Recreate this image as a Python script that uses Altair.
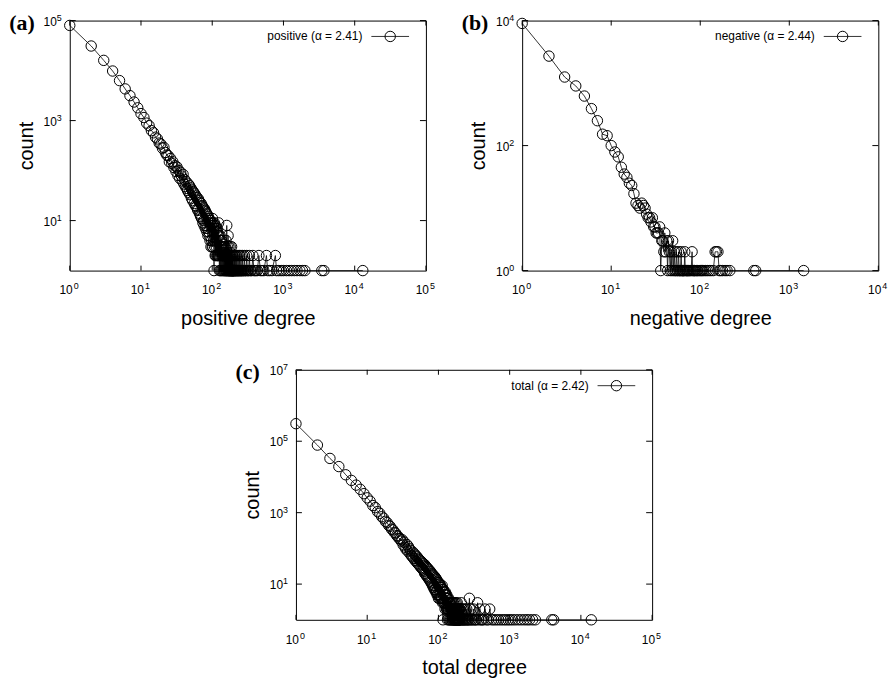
import math
import altair as alt
import pandas as pd

W, H = 359, 252
FONT = "Liberation Sans"

# ---------------- data ----------------
# counts for degree 1, 2, 3, ... (one entry per consecutive degree)
pos_dense = [
    80000, 31000, 16000, 9800, 6300, 4300, 3150, 2350, 1800, 1380,
    1150, 890, 790, 630, 570, 465, 430, 355, 340, 280,
    290, 230, 205, 200, 150, 175, 140, 150, 115, 125,
    96, 118, 80, 100, 70, 92, 78, 62, 84, 54,
    66, 48, 60, 44, 40, 54, 36, 50, 33, 45,
    28, 41, 25, 38, 36, 22, 34, 20, 31, 19,
    29, 17, 16, 27, 25, 14, 23, 13, 12, 22,
    11, 20, 19, 9, 18, 10, 8, 17, 16, 7,
    15, 8, 14, 6, 7, 13, 5, 12, 6, 11,
    5, 10, 4, 9, 10, 3, 8, 4, 9, 3,
    11, 3, 9, 4, 8, 1, 9, 3, 7, 2,
    8, 2, 7, 3, 6, 2, 7, 2, 6, 2,
    5, 2, 9, 2, 5, 1, 4, 2, 5, 1,
    4, 2, 3, 1, 4, 2, 3, 1, 2, 2,
    3, 1, 2, 2, 3, 1, 2, 1, 3, 2,
    2, 1, 3, 1, 2, 4, 1, 2, 1, 8,
    1, 2, 3, 1, 2, 1, 5, 1, 2, 1,
    3, 1, 1, 2, 1, 2, 1, 1, 3, 1,
    2, 1, 1, 2, 1, 1, 3, 1, 1, 2,
    1, 1, 2, 1, 1, 1, 2, 1, 1, 1,
]
pos_tail = [
    (202, 1), (204, 2), (205, 1), (207, 1), (209, 2), (210, 1), (212, 1), (214, 1),
    (215, 2), (217, 1), (220, 1), (222, 2), (224, 1), (226, 1), (229, 1), (231, 2),
    (233, 1), (236, 1), (238, 1), (241, 2), (244, 1), (247, 1), (250, 1), (253, 2),
    (256, 1), (259, 1), (262, 1), (266, 2), (270, 1), (274, 1), (278, 1), (283, 2),
    (288, 1), (293, 1), (298, 1), (305, 2), (311, 1), (318, 1), (325, 1), (332, 2),
    (340, 1), (350, 1), (360, 1), (372, 2), (385, 1), (398, 1), (412, 1), (430, 1),
    (452, 2), (475, 1), (500, 1), (530, 1), (577, 2), (600, 1), (640, 1), (690, 1),
    (770, 2), (800, 1), (860, 1), (930, 1), (1000, 1), (1100, 1), (1200, 1), (1300, 1),
    (1420, 1), (1550, 1), (1700, 1), (1850, 1), (2000, 1), (3450, 1), (3700, 1), (13000, 1),
]

neg_dense = [
    9000, 2700, 1250, 900, 620, 390, 250, 152, 144, 100,
    79, 66, 45, 35, 31, 25, 23, 17, 12, 11,
    10, 12, 11, 10, 8, 7, 7, 6, 7, 5,
    5, 4, 4, 4, 5, 1, 3, 3, 2, 4,
    2, 3, 1, 3, 2, 1, 2, 1, 3, 1,
    2, 1, 1, 2, 1, 1, 2, 1, 1, 1,
]
neg_tail = [
    (61, 2), (62, 1), (63, 1), (64, 1), (65, 1), (66, 1), (67, 2), (68, 1),
    (70, 1), (71, 1), (72, 1), (74, 1), (75, 1), (77, 1), (79, 1),
    (81, 2), (82, 1), (84, 1), (86, 1), (87, 1), (90, 1), (92, 1), (94, 1), (97, 1),
    (100, 1), (103, 1), (106, 1), (110, 1), (115, 1), (120, 1), (126, 1), (132, 1), (140, 1),
    (147, 2), (152, 2), (158, 2), (163, 1), (170, 1), (178, 1), (190, 1), (200, 1), (215, 1),
    (400, 1), (420, 1), (1450, 1),
]

tot_dense = [
    310000, 78000, 33000, 19500, 11500, 8000, 5900, 4500, 3400, 2600,
    2100, 1580, 1380, 1070, 960, 770, 700, 570, 530, 440,
    415, 345, 330, 280, 268, 228, 220, 190, 184, 160,
    175, 125, 150, 108, 95, 128, 84, 112, 98, 70,
    88, 62, 58, 78, 52, 70, 46, 64, 42, 58,
    38, 53, 35, 48, 32, 45, 29, 42, 27, 39,
    25, 37, 23, 20, 34, 19, 31, 17, 29, 16,
    27, 15, 14, 25, 13, 23, 12, 22, 11, 20,
    10, 19, 9, 18, 8, 17, 9, 7, 16, 7,
    15, 6, 14, 6, 13, 5, 12, 5, 11, 4,
    11, 5, 10, 4, 10, 5, 9, 4, 8, 4,
    8, 4, 9, 3, 7, 1, 7, 3, 6, 3,
    6, 3, 5, 2, 6, 3, 5, 3, 4, 2,
    5, 2, 4, 1, 4, 2, 3, 2, 4, 1,
    3, 2, 3, 1, 3, 2, 3, 1, 2, 2,
    3, 1, 2, 2, 3, 1, 2, 1, 3, 2,
    2, 1, 3, 1, 2, 2, 1, 2, 1, 3,
    1, 2, 1, 1, 2, 1, 3, 1, 2, 1,
    2, 1, 1, 3, 1, 2, 1, 1, 2, 1,
    1, 2, 1, 1, 1, 2, 1, 1, 2, 1,
]
tot_tail = [
    (203, 2), (206, 1), (209, 3), (212, 1), (215, 2), (218, 1), (221, 1), (224, 2),
    (228, 1), (232, 1), (236, 2), (240, 1), (245, 1), (250, 2), (255, 1), (260, 1),
    (266, 1), (272, 4), (278, 1), (285, 2), (292, 1), (300, 1), (310, 2), (320, 1),
    (330, 1), (342, 1), (355, 3), (368, 1), (380, 2), (395, 1), (410, 1), (430, 1),
    (450, 2), (475, 1), (500, 1), (525, 2), (560, 1), (600, 1), (650, 1), (700, 1),
    (760, 1), (820, 1), (880, 1), (950, 1), (1020, 1), (1100, 1), (1200, 1), (1320, 1),
    (1450, 1), (1600, 1), (1750, 1), (1900, 1), (2100, 1), (2300, 1), (3900, 1),
    (4150, 1), (14000, 1),
]

pos_xticks = [1, 10, 100, 1000, 10000, 100000]
pos_yticks = [10, 1000, 100000]
neg_xticks = [1, 10, 100, 1000, 10000]
neg_yticks = [1, 100, 10000]
tot_xticks = [1, 10, 100, 1000, 10000, 100000]
tot_yticks = [10, 1000, 100000, 10000000]


def panel(dense, tail, xmax, ymax, xticks, yticks, tag, legend_text, xtitle):
    deg = list(range(1, len(dense) + 1)) + [d for d, _ in tail]
    cnt = list(dense) + [c for _, c in tail]
    df = pd.DataFrame({"deg": deg, "cnt": cnt})

    xs = alt.Scale(type="log", domain=[1, xmax], nice=False)
    ys = alt.Scale(type="log", domain=[1, ymax], nice=False)
    common = dict(ticks=False, tickSize=0, grid=False, domain=False, labels=False,
                  titleFont=FONT, titleFontSize=20, titleFontWeight="normal",
                  titleColor="black")
    xax = alt.Axis(values=xticks, titlePadding=38, title=xtitle, **common)
    yax = alt.Axis(values=yticks, titlePadding=34, title="count", **common)
    x = alt.X("deg:Q", scale=xs, axis=xax)
    y = alt.Y("cnt:Q", scale=ys, axis=yax)

    line = alt.Chart(df).mark_line(color="black", strokeWidth=0.8).encode(x=x, y=y)
    pts = alt.Chart(df).mark_point(shape="circle", filled=False, color="black",
                                   size=110, strokeWidth=1, opacity=1).encode(x=x, y=y)

    xt = pd.DataFrame({"deg": xticks,
                       "e": [str(int(round(math.log10(v)))) for v in xticks]})
    yt = pd.DataFrame({"cnt": yticks,
                       "e": [str(int(round(math.log10(v)))) for v in yticks]})
    tb = alt.Chart(xt).mark_rule(color="black", strokeWidth=1).encode(
        x=x, y=alt.value(H), y2=alt.value(H - 5))
    tt = alt.Chart(xt).mark_rule(color="black", strokeWidth=1).encode(
        x=x, y=alt.value(0), y2=alt.value(5))
    tl = alt.Chart(yt).mark_rule(color="black", strokeWidth=1).encode(
        y=y, x=alt.value(0), x2=alt.value(6))
    tr = alt.Chart(yt).mark_rule(color="black", strokeWidth=1).encode(
        y=y, x=alt.value(W), x2=alt.value(W - 6))

    # tick labels: "10" plus a raised exponent
    xl10 = alt.Chart(xt).mark_text(font=FONT, fontSize=12, align="right",
                                   baseline="alphabetic", dx=3, color="black",
                                   text="10").encode(x=x, y=alt.value(H + 24))
    xlex = alt.Chart(xt).mark_text(font=FONT, fontSize=9, align="left",
                                   baseline="alphabetic", dx=4, color="black").encode(
        x=x, y=alt.value(H + 19), text="e:N")
    yl10 = alt.Chart(yt).mark_text(font=FONT, fontSize=12, align="right",
                                   baseline="alphabetic", dx=-13, dy=5, color="black",
                                   text="10").encode(y=y, x=alt.value(0))
    ylex = alt.Chart(yt).mark_text(font=FONT, fontSize=9, align="left",
                                   baseline="alphabetic", dx=-13, dy=0, color="black").encode(
        y=y, x=alt.value(0), text="e:N")

    one = pd.DataFrame({"t": [tag], "l": [legend_text]})
    tagm = alt.Chart(one).mark_text(font="Liberation Serif", fontWeight="bold",
                                    fontSize=22, align="left", baseline="middle",
                                    color="black").encode(
        x=alt.value(-61), y=alt.value(2), text="t:N")
    legt = alt.Chart(one).mark_text(font=FONT, fontSize=12, align="right",
                                    baseline="middle", color="black").encode(
        x=alt.value(W - 64), y=alt.value(16), text="l:N")
    legr = alt.Chart(one).mark_rule(color="black", strokeWidth=0.8).encode(
        x=alt.value(W - 55), x2=alt.value(W - 17), y=alt.value(16))
    legp = alt.Chart(one).mark_point(shape="circle", filled=False, color="black",
                                     size=110, strokeWidth=1, opacity=1).encode(
        x=alt.value(W - 36), y=alt.value(16))

    return alt.layer(line, pts, tb, tt, tl, tr, xl10, xlex, yl10, ylex,
                     tagm, legt, legr, legp).properties(width=W, height=H)


pa = panel(pos_dense, pos_tail, 100000, 100000, pos_xticks, pos_yticks,
           "(a)", "positive (\u03b1 = 2.41)", "positive degree")
pb = panel(neg_dense, neg_tail, 10000, 10000, neg_xticks, neg_yticks,
           "(b)", "negative (\u03b1 = 2.44)", "negative degree")
pc = panel(tot_dense, tot_tail, 100000, 10000000, tot_xticks, tot_yticks,
           "(c)", "total (\u03b1 = 2.42)", "total degree")

top = alt.hconcat(pa, pb, spacing=25)
chart = alt.vconcat(top, pc, spacing=31, center=True).properties(
    padding={"left": 0, "top": 0, "right": 0, "bottom": 0}
).configure_view(stroke="black", strokeWidth=1)

chart.save("out.html", embed_options={"renderer": "svg", "actions": False})
